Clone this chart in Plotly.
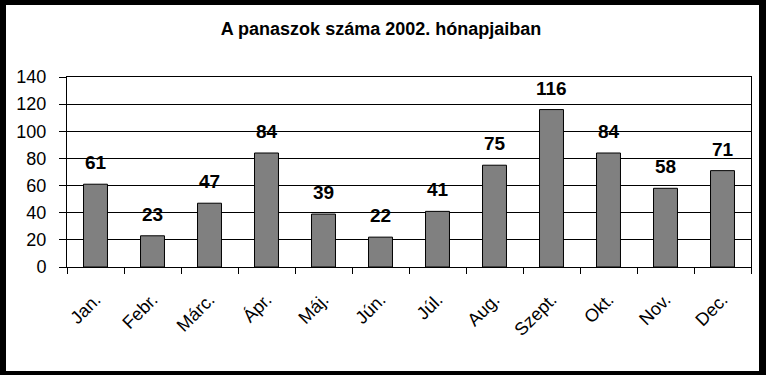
import plotly.graph_objects as go

months = ["Jan.", "Febr.", "Márc.", "Ápr.", "Máj.", "Jún.", "Júl.", "Aug.", "Szept.", "Okt.", "Nov.", "Dec."]
complaints = [61, 23, 47, 84, 39, 22, 41, 75, 116, 84, 58, 71]
y_ticks = [0, 20, 40, 60, 80, 100, 120, 140]

W, H = 766, 375
ML, MR, MT, MB = 67, 15, 77, 108
FONT = "Arial, Liberation Sans, sans-serif"

fig = go.Figure()
fig.add_trace(go.Bar(
    x=months, y=complaints,
    marker=dict(color="#808080", line=dict(color="black", width=1)),
    width=0.42,
))

for m, v in zip(months, complaints):
    fig.add_annotation(x=m, y=v, text=f"<b>{v}</b>", showarrow=False,
                       yanchor="bottom", yshift=9,
                       font=dict(family=FONT, size=19, color="black"))

# white inner panel with black frame
fig.add_shape(type="rect", layer="below",
              xref="paper", yref="paper", xsizemode="pixel", ysizemode="pixel",
              xanchor=0, yanchor=0,
              x0=6 - ML, x1=759 - ML,
              y0=(H - MB) - 371, y1=(H - MB) - 5,
              fillcolor="white", line=dict(width=0))

fig.update_layout(
    width=W, height=H,
    margin=dict(l=ML, r=MR, t=MT, b=MB, pad=0),
    paper_bgcolor="black", plot_bgcolor="white",
    showlegend=False,
    title=dict(text="<b>A panaszok száma 2002. hónapjaiban</b>",
               x=(381) / W, xanchor="center", y=1 - 29 / H, yanchor="middle",
               font=dict(family=FONT, size=18, color="black")),
    font=dict(family=FONT, color="black"),
)
fig.update_xaxes(
    type="category", tickangle=-45, tickson="boundaries",
    ticks="outside", ticklen=6, tickcolor="black", tickwidth=1,
    showline=True, linecolor="black", linewidth=1, mirror=True,
    showgrid=False, tickfont=dict(family=FONT, size=18, color="black"),
    ticklabelstandoff=14,
)
fig.update_yaxes(
    range=[0, 140], tickvals=y_ticks,
    ticks="outside", ticklen=7, tickcolor="black", tickwidth=1,
    showline=True, linecolor="black", linewidth=1, mirror=True,
    showgrid=True, gridcolor="black", gridwidth=1, zeroline=False,
    tickfont=dict(family=FONT, size=18, color="black"), ticklabelstandoff=9,
)

fig.write_html("out.html")
